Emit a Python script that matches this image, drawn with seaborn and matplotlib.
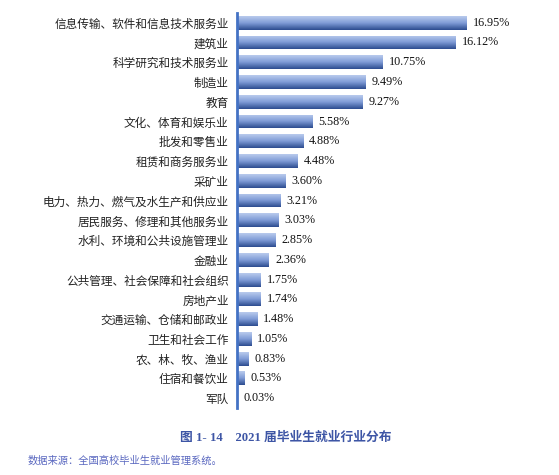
import numpy as np
import pandas as pd
import seaborn as sns
import matplotlib.pyplot as plt
from matplotlib.colors import LinearSegmentedColormap

industries = ["信息传输、软件和信息技术服务业", "建筑业", "科学研究和技术服务业", "制造业", "教育",
              "文化、体育和娱乐业", "批发和零售业", "租赁和商务服务业", "采矿业",
              "电力、热力、燃气及水生产和供应业", "居民服务、修理和其他服务业",
              "水利、环境和公共设施管理业", "金融业", "公共管理、社会保障和社会组织",
              "房地产业", "交通运输、仓储和邮政业", "卫生和社会工作", "农、林、牧、渔业",
              "住宿和餐饮业", "军队"]
shares = [16.95, 16.12, 10.75, 9.49, 9.27, 5.58, 4.88, 4.48, 3.60, 3.21, 3.03,
          2.85, 2.36, 1.75, 1.74, 1.48, 1.05, 0.83, 0.53, 0.03]

caption = "图 1- 14　2021 届毕业生就业行业分布"
source = "数据来源：全国高校毕业生就业管理系统。"

def main():
    sns.set_theme(style="white")
    plt.rcParams['font.family'] = ['Noto Sans CJK SC', 'DejaVu Sans']

    df = pd.DataFrame({"industry": industries, "share": shares})

    fig = plt.figure(figsize=(5.59, 4.75), dpi=100)
    ax = fig.add_axes([0.424, 0.141, 0.545, 0.832])
    sns.barplot(data=df, x="share", y="industry", orient="h", color="#4a6bb0",
                width=0.7, ax=ax)

    # vertical gradient on every bar: light top, dark bottom
    cmap = LinearSegmentedColormap.from_list("g", ["#b9cbed", "#7f9bd6", "#2c4c8f"])
    grad = np.linspace(0, 1, 64).reshape(-1, 1)
    for p in ax.patches:
        x0, y0 = p.get_x(), p.get_y()
        w, h = p.get_width(), p.get_height()
        p.set_facecolor("none")
        p.set_edgecolor("none")
        im = ax.imshow(grad, cmap=cmap, aspect="auto", interpolation="bilinear",
                       extent=[x0, x0 + w, y0 + h, y0], origin="upper", zorder=2)
        im.set_clip_path(p)
        ax.text(x0 + w + 0.45, y0 + h / 2, f"{w:.2f}%", va="center", ha="left",
                fontsize=8.7, family=["Liberation Serif"], color="#111111")

    ax.set_xlim(0, 22.5)
    ax.set_ylim(19.5, -0.5)
    ax.set_xlabel("")
    ax.set_ylabel("")
    ax.set_xticks([])
    for s in ["top", "right", "bottom"]:
        ax.spines[s].set_visible(False)
    ax.spines["left"].set_color("#4472c4")
    ax.spines["left"].set_linewidth(2)
    ax.tick_params(axis="y", length=0, pad=6)
    for lab in ax.get_yticklabels():
        lab.set_fontsize(8.4)
        lab.set_color("#222222")

    fig.text(0.512, 0.079, caption, ha="center", va="center", fontsize=9.2,
             fontweight="bold", color="#3d55a5",
             family=["Liberation Serif", "Noto Sans CJK SC"])
    fig.text(0.05, 0.030, source, ha="left", va="center", fontsize=7.4,
             color="#5a68c0")

    fig.savefig("out.png", dpi=100)

main()
